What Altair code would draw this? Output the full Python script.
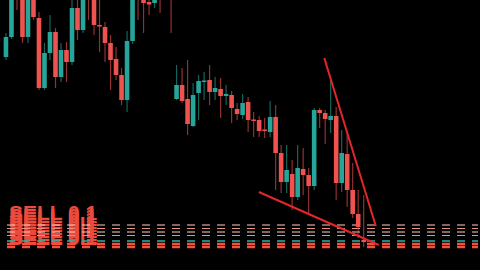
import altair as alt
import pandas as pd

# ---- candle data (index, OHLC in price units) ----
idx = list(range(66))
opens = [213, 233, 300, 280, 233, 280, 252, 182, 217, 238, 193, 220, 208, 262, 240, 290,
         275, 245, 243, 227, 211, 195, 170, 229, 285, 272, 268, 267, 285, 310, 290, 171,
         185, 171, 144, 177, 188, 190, 178, 181, 174, 175, 161, 155, 168, 150.5, 150, 140.5,
         138, 153, 117, 88, 96, 73, 101, 95, 84, 160, 157, 150, 154, 87, 116, 80, 56, 30]
highs = [237, 295, 305, 285, 280, 285, 258, 227, 255, 242, 227, 228, 273, 273, 280, 295,
         280, 275, 248, 235, 223, 202, 239, 285, 290, 278, 275, 275, 290, 315, 295, 205,
         202, 210, 187, 195, 198, 205, 193, 192, 185, 179, 167, 176, 173, 158, 154, 152,
         169, 165, 125, 125, 110, 125, 122, 102, 162, 162, 160, 190, 163, 140, 138, 107, 80, 75]
lows = [210, 231, 260, 227, 227, 250, 180, 180, 210, 182, 188, 188, 205, 230, 237, 250,
        235, 218, 208, 180, 190, 165, 158, 226, 250, 237, 255, 262, 257, 290, 237, 170,
        167, 135, 143, 150, 170, 165, 170, 152, 165, 147, 150, 151, 138, 133, 133, 132,
        133, 80, 77, 77, 60, 70, 75, 57, 80, 142, 126, 137, 70, 78, 63, 52, 32, 23]
closes = [233, 285, 275, 233, 275, 253, 182, 217, 238, 193, 220, 208, 262, 240, 275, 275,
          245, 243.5, 227, 210, 195, 170, 229, 280, 275, 267, 265.5, 272, 275, 295, 275, 185,
          169, 146, 175, 189, 189.5, 178, 182, 174, 176, 162, 156, 167, 150, 149, 139, 139,
          153, 117, 88, 100, 73, 102, 95, 84, 160, 157, 151, 154, 87, 117, 80, 56, 43, 28]

# ---- order level lines ----
level_prices = [45, 41.5, 38, 34.5, 29, 26, 23]
level_colors = ["#f6cfc6", "#ee8f7e", "#f6cfc6", "#ee8f7e", "#2fb3a3", "#f0523e", "#f0523e"]
level_widths = [1, 1, 1, 1, 1.5, 2.5, 2.5]

# ---- stacked order labels ----
label_text = "SELL 0.1"
label_prices = [50, 47, 44, 41, 38, 35, 32, 29, 26, 25]

# ---- trend lines (index, price) ----
trend_x1 = [57.84, 45.95]
trend_y1 = [212, 78]
trend_x2 = [67.2, 67.75]
trend_y2 = [44, 25]

df = pd.DataFrame({"i": idx, "open": opens, "high": highs, "low": lows, "close": closes})
df["dir"] = ["up" if c >= o else "down" for o, c in zip(opens, closes)]

levels = pd.DataFrame({"p": level_prices, "c": level_colors, "w": level_widths})
labels = pd.DataFrame({"p": label_prices, "t": [label_text] * len(label_prices), "i": [0.54] * len(label_prices)})
trends = pd.DataFrame({"x1": trend_x1, "y1": trend_y1, "x2": trend_x2, "y2": trend_y2})

xs = alt.Scale(domain=[-0.72, 85.77], nice=False, zero=False, padding=0)
ys = alt.Scale(domain=[0, 270], nice=False, zero=False, padding=0)
col = alt.Color("dir:N", scale=alt.Scale(domain=["up", "down"], range=["#26a69a", "#ef5350"]), legend=None)

text_layer = alt.Chart(labels).mark_text(
    align="left", baseline="alphabetic", font="Liberation Sans", fontSize=21,
    fontWeight="bold", color="#ec4a3c", clip=True
).encode(
    x=alt.X("i:Q", scale=xs, axis=None),
    y=alt.Y("p:Q", scale=ys, axis=None),
    text="t:N",
)

level_layer = alt.Chart(levels).mark_rule(strokeDash=[8, 7], strokeDashOffset=2).encode(
    y=alt.Y("p:Q", scale=ys, axis=None),
    color=alt.Color("c:N", scale=None),
    strokeWidth=alt.StrokeWidth("w:Q", scale=None),
)

base = alt.Chart(df).encode(x=alt.X("i:Q", scale=xs, axis=None))
wicks = base.mark_rule(strokeWidth=1.2, opacity=0.6, clip=True).encode(
    y=alt.Y("low:Q", scale=ys, axis=None), y2="high:Q", color=col
)
bodies = base.mark_bar(size=4.6, clip=True).encode(
    y=alt.Y("open:Q", scale=ys, axis=None), y2="close:Q", color=col
)

trend_layer = alt.Chart(trends).mark_rule(color="#e3262a", strokeWidth=2, clip=True).encode(
    x=alt.X("x1:Q", scale=xs, axis=None),
    y=alt.Y("y1:Q", scale=ys, axis=None),
    x2="x2:Q",
    y2="y2:Q",
)

chart = alt.layer(text_layer, level_layer, wicks, bodies, trend_layer).properties(
    width=480, height=270, padding=0,
    autosize=alt.AutoSizeParams(type="fit", contains="padding"),
).configure(background="#000000").configure_view(stroke=None)

chart.save("out.html", embed_options={"renderer": "svg", "actions": False})
